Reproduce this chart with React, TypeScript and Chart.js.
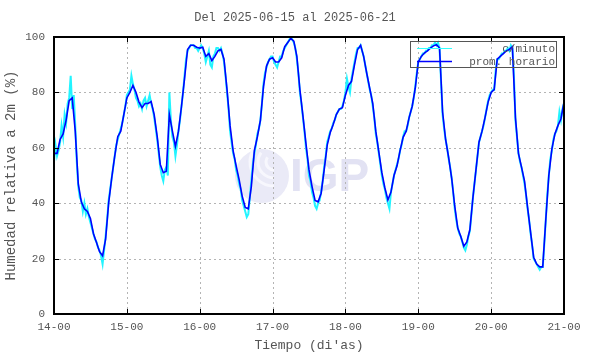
import React, { useEffect, useRef } from "react";
import { Chart, registerables } from "chart.js";
Chart.register(...registerables);

const titleText = "Del 2025-06-15 al 2025-06-21";
const xTitle = "Tiempo (di'as)";
const yTitle = "Humedad relativa a 2m (%)";
const xTickLabels = ["14-00", "15-00", "16-00", "17-00", "18-00", "19-00", "20-00", "21-00"];
const yTickValues = [0, 20, 40, 60, 80, 100];
const legendLabels = ["c/minuto", "prom. horario"];

// hourly averages, one per hour from 14-00 to 21-00
const hourly = [
  58, 58, 63, 65, 70, 77, 78, 66, 47, 40.5, 38, 37, 34.5, 29, 25.8, 22.5, 21, 27, 40, 49, 57, 64, 66, 72,
  78, 80, 82.5, 80, 76.5, 74.5, 76, 76, 76.7, 72, 64, 54, 51, 51.5, 72, 66, 60.5, 66, 75, 85, 95.5, 97, 97, 96.3,
  96, 96.3, 93, 94, 91.5, 93, 95, 95.5, 92, 81, 68, 59, 53.5, 48.4, 42.5, 38.5, 38, 46, 59, 64, 70, 82, 89.5, 92,
  92.5, 91, 91, 92.5, 96.5, 98, 99.5, 98.5, 93, 81, 71.5, 61.5, 52, 46, 41, 40.5, 43.6, 52, 61, 65.5, 68.5, 72, 74, 74.5,
  79, 82.5, 84, 90, 95.5, 97, 93, 87, 81.5, 76, 66, 58.5, 51, 45.5, 41.2, 44, 50, 53.5, 59, 63.8, 66, 71, 75, 81.5,
  91, 93, 94.2, 95, 96, 96.8, 97.2, 96, 73, 63, 56.5, 49, 39, 31, 28, 24.5, 26, 30.5, 42, 52, 62, 66, 71, 76.5,
  80, 81, 92, 93, 94, 95, 95.5, 96.5, 71, 58, 53, 48, 38.5, 29.5, 20.5, 18, 17, 17, 34, 50, 59.5, 65, 68, 70.5,
  76.5,
];

// minute samples, read every half hour
const perMinute = [
  55, 61, 57, 59, 62, 68, 64, 72, 69, 76, 78, 86, 74, 79, 68, 55, 46, 42, 41, 37, 40, 36, 38, 35,
  33, 31, 29, 27, 26, 24, 23, 21, 18, 23, 28, 34, 41, 45, 49, 53, 57, 61, 63, 65, 67, 69, 72, 75,
  79, 80, 81, 86, 83, 81, 78, 77, 75, 76, 74, 77, 78, 75, 77, 79, 76, 74, 71, 67, 63, 58, 53, 50,
  48, 52, 53, 50, 80, 70, 64, 62, 57, 61, 66, 70, 75, 80, 86, 92, 95, 96, 97, 97, 97, 96, 96, 95,
  96, 97, 96, 94, 91, 93, 95, 90, 89, 93, 94, 96, 96, 95, 96, 94, 91, 86, 80, 74, 66, 62, 58, 56,
  52, 50, 47, 45, 41, 39, 37, 35, 36, 42, 48, 54, 58, 61, 65, 67, 70, 76, 83, 87, 89, 91, 92, 93,
  93, 91, 90, 89, 91, 93, 93, 95, 96, 97, 98, 99, 100, 99, 98, 96, 92, 87, 80, 76, 71, 66, 60, 56,
  50, 48, 44, 42, 39, 38, 40, 41, 44, 48, 53, 57, 62, 64, 66, 67, 69, 70, 72, 73, 74, 74, 75, 77,
  80, 85, 82, 80, 85, 88, 91, 94, 96, 96, 97, 95, 93, 90, 87, 84, 81, 79, 75, 71, 65, 62, 58, 54,
  50, 47, 45, 42, 40, 38, 44, 47, 50, 52, 54, 56, 59, 61, 64, 66, 66, 68, 71, 73, 75, 78, 82, 87,
  91, 92, 93, 94, 94, 95, 95, 96, 96, 97, 97, 98, 97, 98, 96, 84, 72, 67, 63, 60, 56, 53, 49, 44,
  38, 34, 31, 29, 28, 26, 24, 23, 25, 28, 30, 36, 42, 47, 52, 57, 62, 64, 66, 68, 71, 74, 77, 79,
  80, 81, 81, 88, 92, 92, 93, 94, 94, 95, 95, 96, 95, 97, 96, 86, 70, 64, 58, 55, 53, 50, 47, 43,
  38, 34, 29, 25, 20, 19, 18, 17, 16, 17, 17, 25, 34, 43, 50, 56, 59, 63, 65, 66, 68, 73, 70, 74,
  76,
];

const MONO = "'Liberation Mono', 'DejaVu Sans Mono', monospace";
const TEXT_COLOR = "#555555";

const decor = {
  id: "decor",
  beforeDatasetsDraw(chart: any) {
    const { ctx, chartArea: a, scales } = chart;
    const xs = scales.x;
    const ys = scales.y;
    ctx.save();
    // watermark logo
    const cx = 262, cy = 176;
    ctx.fillStyle = "#eaeaf7";
    ctx.beginPath();
    ctx.arc(cx, cy, 27, 0, Math.PI * 2);
    ctx.fill();
    ctx.strokeStyle = "#f7f7fd";
    ctx.lineWidth = 3;
    for (let r = 8; r <= 24; r += 8) {
      ctx.beginPath();
      ctx.arc(cx + 12, cy - 14, r, Math.PI * 0.5, Math.PI * 1.2);
      ctx.stroke();
    }
    ctx.fillStyle = "#e2e2f3";
    ctx.font = "bold 46px 'Liberation Sans', Arial, sans-serif";
    ctx.textAlign = "left";
    ctx.textBaseline = "middle";
    ctx.fillText("IGP", 290, 178);

    // dotted grid
    ctx.strokeStyle = "#b4b4b4";
    ctx.lineWidth = 1;
    ctx.setLineDash([2, 3]);
    for (let i = 1; i < xTickLabels.length - 1; i++) {
      const px = Math.round(xs.getPixelForValue(i * 24)) + 0.5;
      ctx.beginPath();
      ctx.moveTo(px, a.top);
      ctx.lineTo(px, a.bottom);
      ctx.stroke();
    }
    for (let i = 1; i < yTickValues.length - 1; i++) {
      const py = Math.round(ys.getPixelForValue(yTickValues[i])) + 0.5;
      ctx.beginPath();
      ctx.moveTo(a.left, py);
      ctx.lineTo(a.right, py);
      ctx.stroke();
    }
    ctx.restore();
  },
  afterDatasetsDraw(chart: any) {
    const { ctx, chartArea: a, scales } = chart;
    const xs = scales.x;
    const ys = scales.y;
    ctx.save();
    ctx.setLineDash([]);
    // frame
    ctx.strokeStyle = "#000";
    ctx.lineWidth = 2;
    ctx.strokeRect(a.left, a.top, a.right - a.left, a.bottom - a.top);
    // inward ticks
    ctx.lineWidth = 1;
    for (let i = 1; i < xTickLabels.length - 1; i++) {
      const px = Math.round(xs.getPixelForValue(i * 24)) + 0.5;
      ctx.beginPath();
      ctx.moveTo(px, a.top);
      ctx.lineTo(px, a.top + 5);
      ctx.moveTo(px, a.bottom);
      ctx.lineTo(px, a.bottom - 5);
      ctx.stroke();
    }
    for (let i = 1; i < yTickValues.length - 1; i++) {
      const py = Math.round(ys.getPixelForValue(yTickValues[i])) + 0.5;
      ctx.beginPath();
      ctx.moveTo(a.left, py);
      ctx.lineTo(a.left + 5, py);
      ctx.moveTo(a.right, py);
      ctx.lineTo(a.right - 5, py);
      ctx.stroke();
    }
    // legend
    const lx = 410, ly = 41, lw = 146, lh = 26;
    ctx.strokeStyle = "#555";
    ctx.lineWidth = 1;
    ctx.strokeRect(lx + 0.5, ly + 0.5, lw, lh);
    ctx.font = "11px " + MONO;
    ctx.fillStyle = TEXT_COLOR;
    ctx.textAlign = "right";
    ctx.textBaseline = "middle";
    const rows = [
      { label: legendLabels[0], color: "#33ffff", width: 1, y: ly + 7 },
      { label: legendLabels[1], color: "#0000ff", width: 1.5, y: ly + 20 },
    ];
    rows.forEach((r) => {
      ctx.strokeStyle = r.color;
      ctx.lineWidth = r.width;
      ctx.beginPath();
      ctx.moveTo(lx + 7, r.y + 0.5);
      ctx.lineTo(lx + 42, r.y + 0.5);
      ctx.stroke();
      ctx.fillText(r.label, lx + lw - 1, r.y + 1);
    });
    // titles
    ctx.fillStyle = TEXT_COLOR;
    ctx.textAlign = "center";
    ctx.textBaseline = "middle";
    ctx.font = "12px " + MONO;
    ctx.fillText(titleText, 295, 18);
    ctx.font = "13px " + MONO;
    ctx.fillText(xTitle, (a.left + a.right) / 2, 346);
    ctx.font = "14px " + MONO;
    ctx.translate(11, (a.top + a.bottom) / 2);
    ctx.rotate(-Math.PI / 2);
    ctx.fillText(yTitle, 0, 0);
    ctx.restore();
  },
};

export default function App() {
  const ref = useRef<HTMLCanvasElement | null>(null);
  useEffect(() => {
    if (!ref.current) return;
    const chart = new Chart(ref.current, {
      type: "line",
      data: {
        datasets: [
          {
            label: legendLabels[1],
            data: hourly.map((v, i) => ({ x: i, y: v })),
            borderColor: "#0000ff",
            borderWidth: 1.6,
            pointRadius: 0,
            tension: 0,
            order: 0,
          },
          {
            label: legendLabels[0],
            data: perMinute.map((v, i) => ({ x: i * 0.5, y: v })),
            borderColor: "#22f4ff",
            borderWidth: 2,
            pointRadius: 0,
            tension: 0,
            order: 1,
          },
        ],
      },
      options: {
        animation: false,
        responsive: false,
        devicePixelRatio: 1,
        events: [],
        layout: { padding: { top: 37, right: 26, left: 0, bottom: 0 } },
        plugins: { legend: { display: false }, tooltip: { enabled: false }, title: { display: false } },
        scales: {
          x: {
            type: "linear",
            min: 0,
            max: 168,
            grid: { display: false, drawTicks: false },
            border: { display: false },
            ticks: {
              stepSize: 24,
              autoSkip: false,
              maxRotation: 0,
              padding: 6,
              color: TEXT_COLOR,
              font: { family: MONO, size: 11 },
              callback: (v: any) => xTickLabels[Math.round(Number(v) / 24)] ?? "",
            },
            afterFit: (s: any) => {
              s.height = 40;
            },
          },
          y: {
            min: 0,
            max: 100,
            grid: { display: false, drawTicks: false },
            border: { display: false },
            ticks: {
              stepSize: 20,
              padding: 9,
              color: TEXT_COLOR,
              font: { family: MONO, size: 11 },
            },
            afterFit: (s: any) => {
              s.width = 54;
            },
          },
        },
      },
      plugins: [decor],
    } as any);
    return () => chart.destroy();
  }, []);
  return (
    <div style={{ position: "fixed", left: 0, top: 0, width: 590, height: 354, background: "#fff" }}>
      <canvas ref={ref} width={590} height={354} style={{ width: 590, height: 354, display: "block" }} />
    </div>
  );
}
